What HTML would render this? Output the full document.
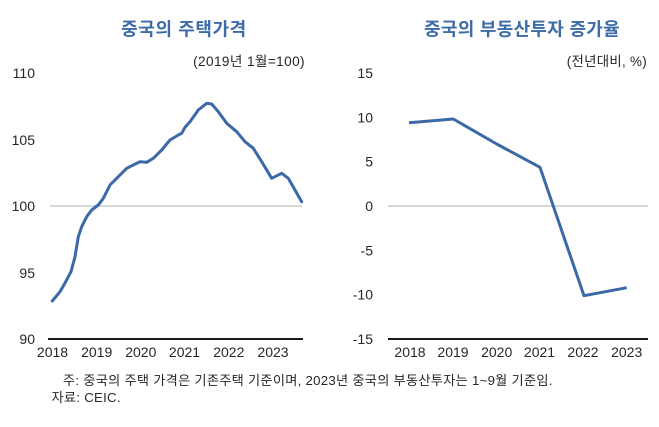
<!DOCTYPE html>
<html><head><meta charset="utf-8"><style>
html,body{margin:0;padding:0;background:#fff;}
svg{display:block;}
text{font-family:"Liberation Sans","Noto Sans CJK KR",sans-serif;}
</style></head><body>
<svg width="659" height="427" viewBox="0 0 659 427" xmlns="http://www.w3.org/2000/svg">
<rect width="659" height="427" fill="#fff"/>
<!-- Titles -->
<text x="184" y="35.5" text-anchor="middle" font-size="18" font-weight="bold" letter-spacing="0.6" fill="#3D6CA8">중국의 주택가격</text>
<text x="522" y="35.5" text-anchor="middle" font-size="18" font-weight="bold" letter-spacing="0.3" fill="#3D6CA8">중국의 부동산투자 증가율</text>
<!-- Units -->
<text x="305" y="66" text-anchor="end" font-size="13.6" letter-spacing="0.4" fill="#262626">(2019년 1월=100)</text>
<text x="647" y="66" text-anchor="end" font-size="13.4" letter-spacing="0.3" fill="#262626">(전년대비, %)</text>

<!-- Left chart -->
<line x1="50" y1="206" x2="302" y2="206" stroke="#c0c0c0" stroke-width="1.3"/>
<line x1="48" y1="339" x2="303" y2="339" stroke="#1a1a1a" stroke-width="2"/>
<g font-size="14" fill="#262626" text-anchor="end">
<text x="35" y="78">110</text>
<text x="35" y="145">105</text>
<text x="35" y="211">100</text>
<text x="35" y="278">95</text>
<text x="35" y="344">90</text>
</g>
<g font-size="14" fill="#262626" text-anchor="middle">
<text x="52.5" y="357">2018</text>
<text x="96.7" y="357">2019</text>
<text x="140.8" y="357">2020</text>
<text x="184.5" y="357">2021</text>
<text x="228.8" y="357">2022</text>
<text x="273" y="357">2023</text>
</g>
<polyline fill="none" stroke="#3B68A6" stroke-width="3" stroke-linejoin="round" stroke-linecap="round"
points="52.3,301 60,291.7 65,283 71,271.7 75,256.7 78.3,236.7 81.7,226.7 86.7,216.7 91.7,210 98.3,205 103.3,198.3 110,185 118.3,176.7 126.7,168.3 133.3,165 140,161.7 146.7,162.3 153.3,158.3 161.7,150 170,140 178.3,135 181.7,133.3 185,127.3 190,121.7 198.3,110 206.7,103.3 211.7,104 218.3,111.7 226.7,123.3 236.7,131.7 245,141.7 253.3,148.3 261.7,161.7 271.7,178.3 281.7,173.3 288.3,178.3 301.7,201.7"/>

<!-- Right chart -->
<line x1="388" y1="206" x2="648" y2="206" stroke="#c0c0c0" stroke-width="1.3"/>
<line x1="388" y1="339" x2="648" y2="339" stroke="#1a1a1a" stroke-width="2"/>
<g font-size="14" fill="#262626" text-anchor="end">
<text x="373" y="78">15</text>
<text x="373" y="122.3">10</text>
<text x="373" y="166.7">5</text>
<text x="373" y="211">0</text>
<text x="373" y="255.3">-5</text>
<text x="373" y="299.7">-10</text>
<text x="373" y="344">-15</text>
</g>
<g font-size="14" fill="#262626" text-anchor="middle">
<text x="410" y="357">2018</text>
<text x="453" y="357">2019</text>
<text x="496.7" y="357">2020</text>
<text x="539.5" y="357">2021</text>
<text x="583" y="357">2022</text>
<text x="626.7" y="357">2023</text>
</g>
<polyline fill="none" stroke="#3B68A6" stroke-width="3" stroke-linejoin="round" stroke-linecap="butt"
points="409,122.7 453.3,119 496.7,144 540,167.3 584,295.7 626.7,287.7"/>

<!-- Footnotes -->
<text x="63" y="385" font-size="13.2" letter-spacing="0.28" fill="#262626">주: 중국의 주택 가격은 기존주택 기준이며, 2023년 중국의 부동산투자는 1~9월 기준임.</text>
<text x="51.5" y="402" font-size="13.2" letter-spacing="0.28" fill="#262626">자료: CEIC.</text>
</svg>
</body></html>
